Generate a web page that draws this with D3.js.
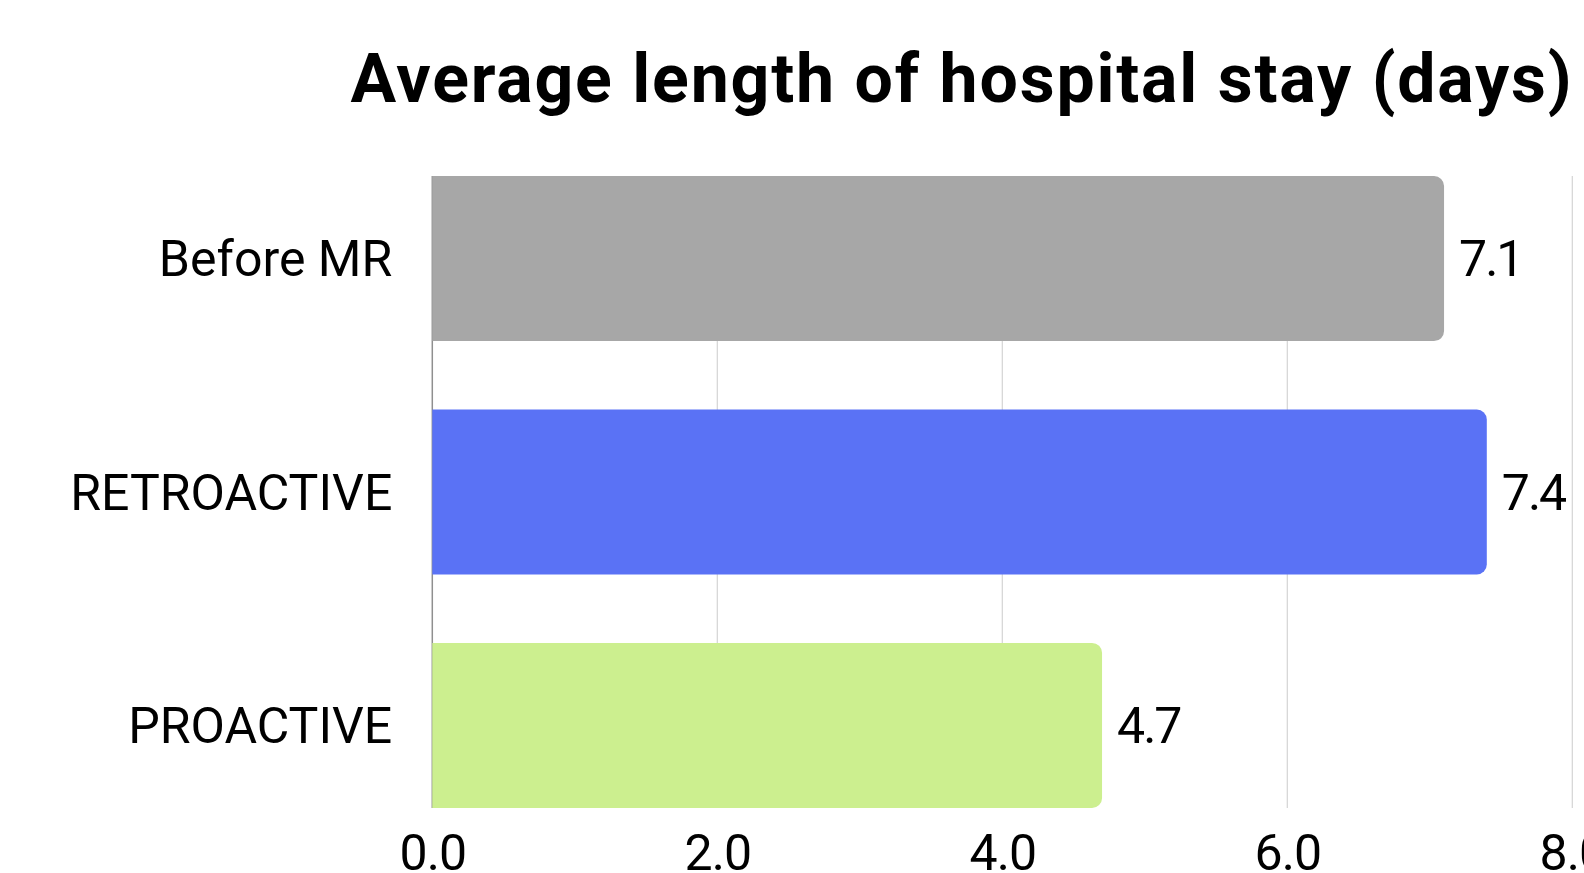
<!DOCTYPE html>
<html>
<head>
<meta charset="utf-8">
<script src="https://cdn.jsdelivr.net/npm/d3@7"></script>
<style>
  html, body { margin: 0; padding: 0; background: #ffffff; }
  svg { display: block; }
  text { font-family: Roboto, "Liberation Sans", Arial, sans-serif; fill: #000; }
</style>
</head>
<body>
<svg id="chart" width="1584" height="873"></svg>
<script>
// Average length of hospital stay per group
const categories = ["Before MR", "RETROACTIVE", "PROACTIVE"];
const values = [7.1, 7.4, 4.7];
const barColors = ["#a7a7a7", "#5a72f5", "#ccef8f"];
const tickValues = [0, 2, 4, 6, 8];
const titleText = "Average length of hospital stay (days)";

const W = 1584, H = 873;
const plot = { left: 432.3, right: 1572.3, top: 176, bottom: 808 };

const svg = d3.select("#chart");

const x = d3.scaleLinear().domain([0, 8]).range([plot.left, plot.right]);
const y = d3.scaleBand().domain(categories).range([plot.top, plot.bottom])
  .paddingInner(0.293).paddingOuter(0);

// Vertical gridlines (drawn first so the bars sit on top)
svg.append("g")
  .selectAll("line")
  .data(tickValues.filter(d => d > 0))
  .join("line")
  .attr("x1", d => x(d)).attr("x2", d => x(d))
  .attr("y1", plot.top).attr("y2", plot.bottom)
  .attr("stroke", "#d4d4d4").attr("stroke-width", 1.2);

// Baseline at zero
svg.append("line")
  .attr("x1", x(0)).attr("x2", x(0))
  .attr("y1", plot.top).attr("y2", plot.bottom)
  .attr("stroke", "#8f8f8f").attr("stroke-width", 1.5);

// Bars with rounded right end only
const r = 10;
function barPath(d, i) {
  const x0 = x(0), x1 = x(d), y0 = y(categories[i]), h = y.bandwidth();
  const rr = Math.min(r, (x1 - x0) / 2, h / 2);
  return `M${x0},${y0}H${x1 - rr}A${rr},${rr} 0 0 1 ${x1},${y0 + rr}` +
         `V${y0 + h - rr}A${rr},${rr} 0 0 1 ${x1 - rr},${y0 + h}H${x0}Z`;
}
svg.append("g")
  .selectAll("path")
  .data(values)
  .join("path")
  .attr("d", (d, i) => barPath(d, i))
  .attr("fill", (d, i) => barColors[i]);

// Value labels at the end of each bar
svg.append("g")
  .selectAll("text")
  .data(values)
  .join("text")
  .attr("x", d => x(d) + 15)
  .attr("y", (d, i) => y(categories[i]) + y.bandwidth() / 2)
  .attr("dy", "0.355em")
  .attr("font-size", 50)
  .attr("letter-spacing", -2)
  .text(d => d3.format(".1f")(d));

// Category axis labels
const yAxis = d3.axisLeft(y).tickSize(0).tickPadding(40);
const gy = svg.append("g").attr("transform", `translate(${x(0)},0)`).call(yAxis);
gy.select(".domain").remove();
gy.selectAll("text")
  .attr("font-size", 50)
  .attr("font-family", "Roboto, 'Liberation Sans', Arial, sans-serif")
  .attr("fill", "#000")
  .attr("dy", "0.355em");

// Value axis tick labels
const xAxis = d3.axisBottom(x).tickValues(tickValues).tickSize(0).tickPadding(0)
  .tickFormat(d3.format(".1f"));
const gx = svg.append("g").attr("transform", `translate(0,${870})`).call(xAxis);
gx.select(".domain").remove();
gx.selectAll("text")
  .attr("font-size", 50)
  .attr("font-family", "Roboto, 'Liberation Sans', Arial, sans-serif")
  .attr("fill", "#000")
  .attr("letter-spacing", -1)
  .attr("dy", 0);

// Title
svg.append("text")
  .attr("x", 962)
  .attr("y", 101.7)
  .attr("text-anchor", "middle")
  .attr("font-size", 68)
  .attr("font-weight", 700)
  .attr("letter-spacing", 1.8)
  .text(titleText);
</script>
</body>
</html>
